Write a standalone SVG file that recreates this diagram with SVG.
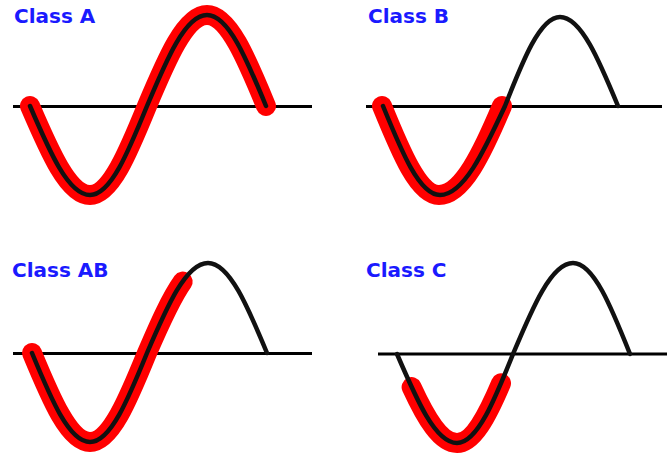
<svg xmlns="http://www.w3.org/2000/svg" width="667" height="461" viewBox="0 0 667 461">
<style>
.lbl{font-family:"DejaVu Sans","Liberation Sans",sans-serif;font-weight:bold;font-size:20px;fill:#1a1aff}
.axis{stroke:#000;stroke-width:3;fill:none}
.wave{stroke:#111;stroke-width:4.5;fill:none;stroke-linecap:round;stroke-linejoin:round}
.hi{stroke:#ff0000;stroke-width:20;fill:none;stroke-linecap:round;stroke-linejoin:round}
</style>
<rect width="667" height="461" fill="#fff"/>
<g id="classA">
<text class="lbl" x="14" y="23">Class A</text>
<line class="axis" x1="13" y1="106.5" x2="312" y2="106.5"/>
<path class="hi" d="M30,106 C49.6,151.6 68.3,195 90,195 C110.6,195 128.4,151.6 147,106 C166.6,59.4 185.3,15 207,15 C228.4,15 246.8,59.4 266,106"/>
<path class="wave" d="M30,106 C49.6,151.6 68.3,195 90,195 C110.6,195 128.4,151.6 147,106 C166.6,59.4 185.3,15 207,15 C228.4,15 246.8,59.4 266,106"/>
</g>
<g id="classB">
<text class="lbl" x="368" y="23">Class B</text>
<line class="axis" x1="366" y1="106.5" x2="662" y2="106.5"/>
<path class="hi" d="M382,106 C400.6,151.6 418.4,195 439,195 C462.5,195 482.8,151.6 502,106"/>
<path class="wave" d="M383,106 C401.6,151.6 419.4,195 440,195 C463.5,195 483.8,151.6 505,106 C522.9,60.4 540.1,17 560,17 C581,17 599.1,60.4 618,106"/>
</g>
<g id="classAB">
<text class="lbl" x="12" y="277">Class AB</text>
<line class="axis" x1="13" y1="353.5" x2="312" y2="353.5"/>
<path class="hi" d="M32,353 C50.9,398.6 69,442 90,442 C110.6,442 128.4,398.6 147,353 C158.9,325.3 170.6,298.5 182.7,281.6"/>
<path class="wave" d="M32,353 C50.9,398.6 69,442 90,442 C110.6,442 128.4,398.6 147,353 C166.9,306.9 185.9,263 208,263 C229.4,263 247.8,306.9 267,353"/>
</g>
<g id="classC">
<text class="lbl" x="366" y="277">Class C</text>
<line class="axis" x1="378" y1="354" x2="667" y2="354"/>
<path class="hi" d="M411.6,387.1 C426.1,418.6 440.7,443 457,443 C472.8,443 486.9,416.6 501,383.3"/>
<path class="wave" d="M397,354 C416.6,399.6 435.3,443 457,443 C477.3,443 494.7,399.6 513,354 C532.6,307.4 551.3,263 573,263 C593.6,263 611.4,307.4 630,354"/>
</g>
</svg>
